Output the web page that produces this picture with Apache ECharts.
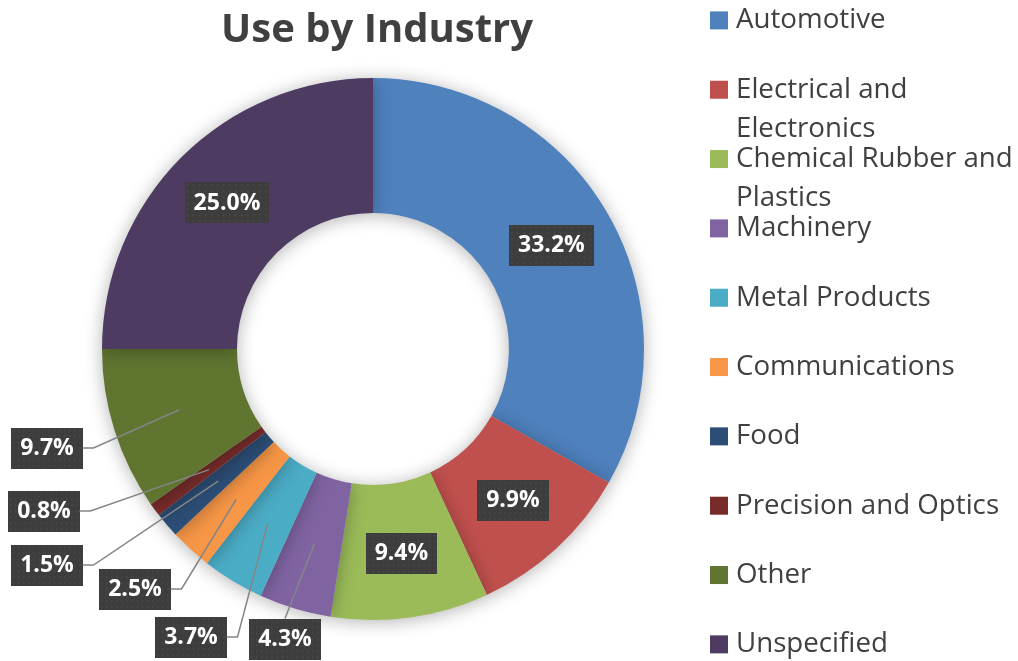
<!DOCTYPE html>
<html>
<head>
<meta charset="utf-8">
<script src="https://cdn.jsdelivr.net/npm/echarts@6/dist/echarts.min.js"></script>
<style>
  html, body { margin: 0; padding: 0; background: #fff; }
  #chart { width: 1018px; height: 661px; }
</style>
</head>
<body>
<div id="chart"></div>
<script>
const industries = [
  "Automotive",
  "Electrical and Electronics",
  "Chemical Rubber and Plastics",
  "Machinery",
  "Metal Products",
  "Communications",
  "Food",
  "Precision and Optics",
  "Other",
  "Unspecified",
];
const shares = [33.2, 9.9, 9.4, 4.3, 3.7, 2.5, 1.5, 0.8, 9.7, 25.0];
const colors = ["#4f81bd", "#c0504d", "#9bbb59", "#8064a2", "#4bacc6",
  "#f79646", "#2c4d75", "#772c2a", "#5f7530", "#4d3b62"];

// label box centres for the small slices (null = label stays inside the ring)
const calloutPos = [null, null, null,
  { x: 285, y: 639, side: "top" },
  { x: 191, y: 637 },
  { x: 135, y: 589 },
  { x: 47, y: 565 },
  { x: 44, y: 511 },
  { x: 47, y: 448 },
  null];

const legendFont = 27.7;
const legendWrap = 282;
const legendStep = 69.33;
const legendFirst = 20.4;

// dotted dark fill for the data labels
function dotPattern() {
  const c = document.createElement("canvas");
  c.width = 84; c.height = 41;
  const g = c.getContext("2d");
  g.fillStyle = "#3d3d3d";
  g.fillRect(0, 0, c.width, c.height);
  g.fillStyle = "#4f4f4f";
  for (let y = 2; y < c.height; y += 6) {
    for (let x = 2; x < c.width; x += 6) {
      g.fillRect(x, y, 1.5, 1.5);
    }
  }
  return c;
}
const labelBg = dotPattern();

// greedy word wrap of legend names, like the legend box in the original
const measure = document.createElement("canvas").getContext("2d");
measure.font = legendFont + 'px "Open Sans"';
function wrapLines(name) {
  const lines = [];
  let cur = "";
  name.split(" ").forEach((w) => {
    const next = cur ? cur + " " + w : w;
    if (cur && measure.measureText(next).width > legendWrap) {
      lines.push(cur);
      cur = w;
    } else {
      cur = next;
    }
  });
  lines.push(cur);
  return lines;
}

const chart = echarts.init(document.getElementById("chart"), null, { renderer: "canvas" });

chart.setOption({
  backgroundColor: "#ffffff",
  animation: false,
  color: colors,
  title: {
    text: "Use by Industry",
    left: 372,
    top: 6,
    textAlign: "center",
    textStyle: { fontFamily: "Open Sans", fontWeight: "bold", fontSize: 40, color: "#404040" },
  },
  legend: industries.map((name, i) => {
    const lines = wrapLines(name);
    const two = lines.length > 1;
    return {
      left: 710,
      top: legendFirst + i * legendStep - 19.5 - (two ? 39 : 0),
      padding: 0,
      itemWidth: 18,
      itemHeight: 18,
      icon: "rect",
      selectedMode: false,
      data: [name],
      // an empty first line keeps the icon level with the first text line
      formatter: () => (two ? "\n" : "") + lines.join("\n"),
      textStyle: {
        fontFamily: "Open Sans",
        fontSize: legendFont,
        color: "#404040",
        lineHeight: 39,
        padding: [0, 0, 0, 3],
      },
    };
  }),
  series: [
    {
      type: "pie",
      center: [373, 349],
      radius: [136, 271],
      startAngle: 90,
      clockwise: true,
      avoidLabelOverlap: false,
      itemStyle: {
        shadowBlur: 18,
        shadowColor: "rgba(0,0,0,0.3)",
        shadowOffsetY: 2,
      },
      label: {
        position: "inside",
        formatter: (p) => p.value.toFixed(1) + "%",
        fontFamily: "Open Sans",
        fontWeight: "bold",
        fontSize: 23,
        lineHeight: 31,
        color: "#ffffff",
        padding: [5, 9],
        backgroundColor: { image: labelBg },
        shadowColor: "rgba(0,0,0,0.45)",
        shadowBlur: 5,
        shadowOffsetX: 3,
        shadowOffsetY: 3,
      },
      labelLine: { show: false },
      labelLayout: function (p) {
        const pos = calloutPos[p.dataIndex];
        if (!pos) return {};
        return { x: pos.x, y: pos.y, align: "center", verticalAlign: "middle" };
      },
      emphasis: { disabled: true },
      data: industries.map((name, i) => ({ name: name, value: shares[i] })),
    },
  ],
});

// leader lines: from the middle of each small slice (pie layout) to its label box
const pieData = chart.getModel().getSeriesByIndex(0).getData();
const leaders = [];
calloutPos.forEach((pos, i) => {
  if (!pos) return;
  const lay = pieData.getItemLayout(i);
  const mid = (lay.startAngle + lay.endAngle) / 2;
  const rm = (lay.r0 + lay.r) / 2;
  const a = [lay.cx + rm * Math.cos(mid), lay.cy + rm * Math.sin(mid)];
  let pts;
  if (pos.side === "top") {
    pts = [a, [pos.x, pos.y - 20.5]];
  } else {
    const edge = pos.x + 35.5;
    pts = [a, [edge + 11, pos.y], [edge, pos.y]];
  }
  leaders.push({
    type: "polyline",
    z: 10,
    silent: true,
    shape: { points: pts },
    style: { stroke: "#858585", lineWidth: 1.5, fill: null },
  });
});
chart.setOption({ graphic: leaders });
</script>
</body>
</html>
